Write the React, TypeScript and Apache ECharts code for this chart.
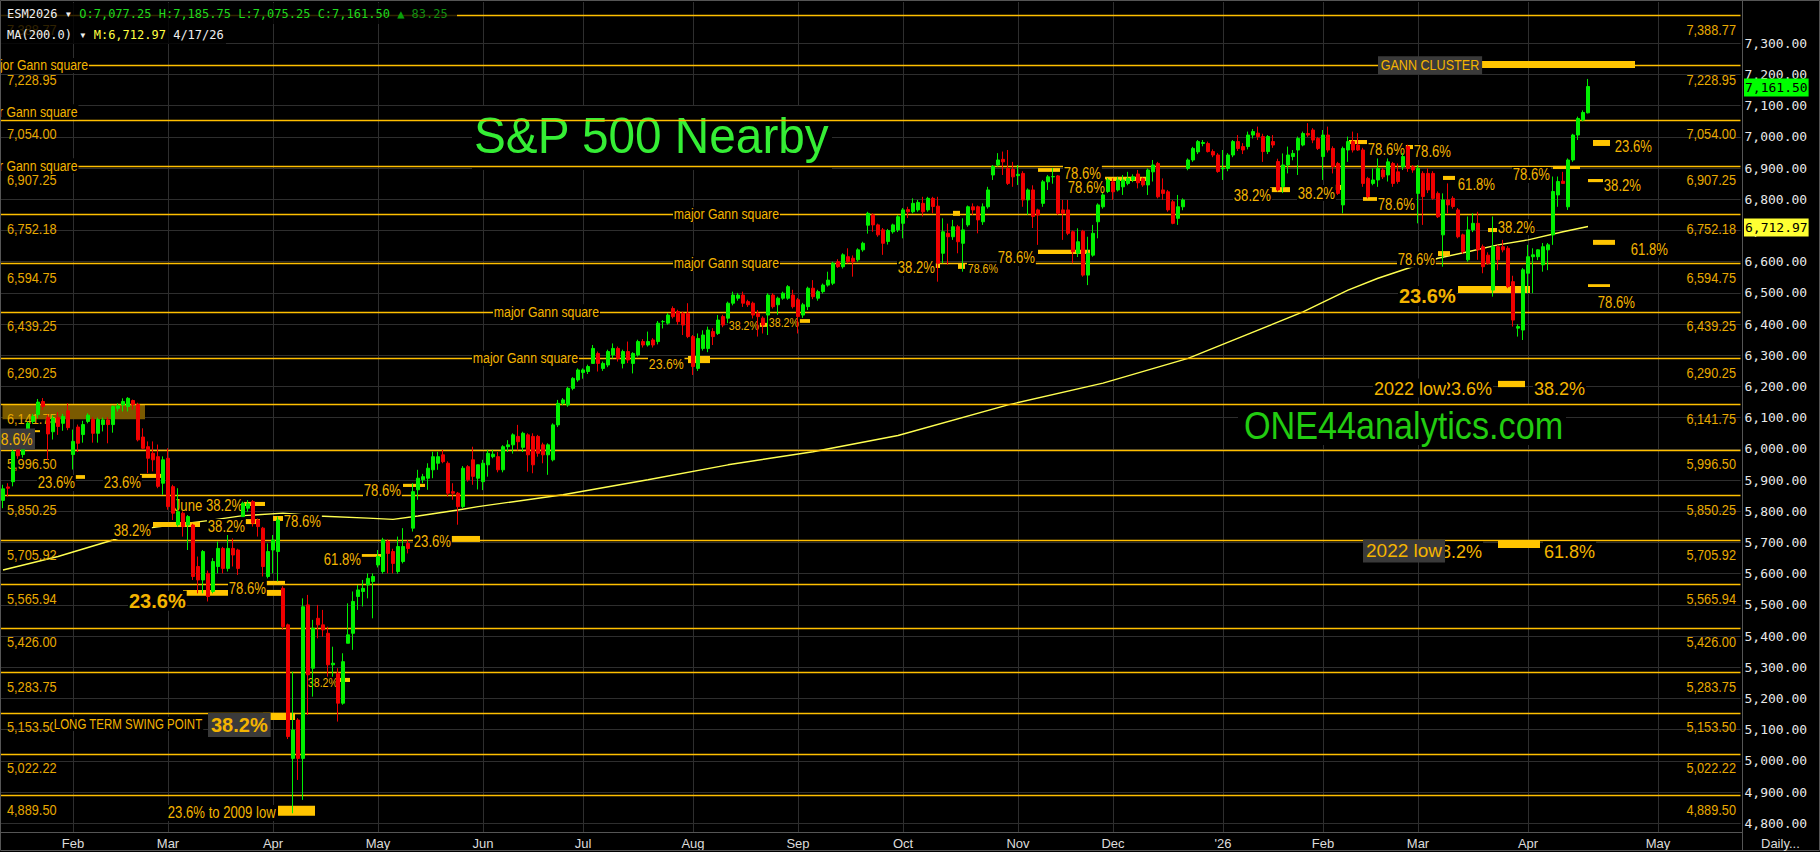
import React, { useEffect, useRef } from 'react';
import * as echarts from 'echarts';

// ---------- calendar ----------
const FIRST_DAY = '2025-01-13';
const AXIS_DAYS = 348;
const HOLIDAYS = ['2025-01-20', '2025-02-17', '2025-04-18', '2025-05-26', '2025-06-19', '2025-07-04', '2025-09-01', '2025-11-27', '2025-12-25', '2026-01-01', '2026-01-19', '2026-02-16'];

// ---------- daily bars: [open, high, low, close] ----------
const ohlc: number[][] = [
  [5835, 5885, 5810, 5872], [5878, 5890, 5847, 5874], [5895, 6002, 5880, 5991], [5998, 6005, 5968, 5978], [5982, 6015, 5972, 6008],
  [6040, 6088, 6030, 6082], [6088, 6112, 6080, 6104], [6110, 6160, 6098, 6150], [6152, 6163, 6125, 6136], [6100, 6110, 5965, 6048],
  [6055, 6108, 6030, 6098], [6100, 6118, 6045, 6072], [6082, 6112, 6058, 6104], [6122, 6146, 6060, 6068], [5982, 6062, 5934, 6024],
  [6070, 6078, 5990, 6018], [6046, 6090, 6020, 6078], [6088, 6114, 6082, 6108], [6094, 6102, 6020, 6050], [6050, 6100, 6020, 6094],
  [6078, 6100, 6056, 6093], [6093, 6102, 6018, 6078], [6078, 6140, 6052, 6136], [6130, 6146, 6120, 6138], [6141, 6162, 6120, 6152],
  [6136, 6166, 6120, 6162], [6155, 6158, 6126, 6142], [6142, 6148, 6024, 6029], [6038, 6066, 5998, 6002], [6007, 6024, 5922, 5970],
  [5986, 6024, 5928, 5965], [5975, 6014, 5874, 5880], [5890, 5976, 5853, 5965], [5970, 6002, 5805, 5815], [5879, 5885, 5772, 5794],
  [5757, 5874, 5751, 5799], [5794, 5800, 5719, 5751], [5756, 5788, 5676, 5783], [5756, 5760, 5580, 5591], [5623, 5655, 5537, 5580],
  [5580, 5676, 5537, 5671], [5601, 5610, 5511, 5527], [5543, 5650, 5537, 5639], [5623, 5703, 5601, 5681], [5681, 5686, 5601, 5617],
  [5617, 5724, 5607, 5681], [5681, 5713, 5623, 5660], [5676, 5680, 5596, 5617], [5783, 5831, 5783, 5826], [5810, 5836, 5799, 5824],
  [5831, 5836, 5751, 5762], [5772, 5777, 5719, 5751], [5746, 5750, 5591, 5623], [5591, 5697, 5585, 5671], [5676, 5724, 5601, 5708],
  [5671, 5783, 5575, 5772], [5553, 5560, 5420, 5430], [5436, 5440, 5070, 5078], [5008, 5286, 4832, 5099], [5131, 5137, 4939, 5008],
  [5008, 5521, 4875, 5494], [5500, 5532, 5147, 5276], [5297, 5452, 5206, 5425], [5457, 5500, 5393, 5436], [5436, 5484, 5398, 5420],
  [5409, 5430, 5270, 5308], [5308, 5366, 5270, 5313], [5281, 5297, 5126, 5185], [5185, 5345, 5180, 5318], [5377, 5505, 5377, 5404],
  [5409, 5543, 5356, 5511], [5527, 5564, 5484, 5548], [5543, 5580, 5495, 5553], [5564, 5601, 5521, 5585], [5575, 5601, 5457, 5591],
  [5628, 5676, 5620, 5655], [5607, 5715, 5600, 5708], [5703, 5710, 5601, 5665], [5671, 5680, 5601, 5633], [5607, 5719, 5600, 5687],
  [5639, 5746, 5633, 5687], [5697, 5708, 5665, 5681], [5746, 5890, 5735, 5863], [5869, 5933, 5837, 5906], [5901, 5920, 5890, 5911],
  [5906, 5954, 5869, 5938], [5933, 5991, 5906, 5975], [5954, 5991, 5933, 5975], [5981, 5997, 5954, 5959], [5954, 5960, 5847, 5858],
  [5863, 5890, 5837, 5858], [5858, 5862, 5757, 5815], [5815, 5945, 5810, 5938], [5943, 5948, 5895, 5901], [5965, 6007, 5885, 5912],
  [5906, 5950, 5870, 5949], [5895, 5965, 5868, 5954], [5949, 5997, 5911, 5986], [5975, 5997, 5970, 5983], [5975, 5990, 5925, 5933],
  [5933, 6012, 5925, 6007], [6007, 6028, 5990, 6013], [6013, 6050, 5985, 6045], [6040, 6077, 5995, 6023], [6005, 6055, 5990, 6050],
  [6045, 6050, 5927, 5981], [6040, 6050, 5922, 5949], [6040, 6045, 5975, 5986], [6013, 6020, 5954, 5981], [5981, 6018, 5917, 6013],
  [5965, 6082, 5960, 6077], [6077, 6157, 6070, 6146], [6146, 6163, 6140, 6157], [6141, 6199, 6135, 6194], [6194, 6230, 6188, 6226],
  [6221, 6258, 6215, 6253], [6245, 6258, 6225, 6253], [6248, 6270, 6240, 6264], [6274, 6333, 6274, 6322], [6306, 6312, 6248, 6274],
  [6258, 6280, 6250, 6274], [6269, 6318, 6262, 6312], [6301, 6338, 6290, 6322], [6322, 6328, 6280, 6290], [6274, 6318, 6258, 6312],
  [6312, 6344, 6275, 6285], [6274, 6310, 6242, 6306], [6301, 6350, 6296, 6344], [6344, 6352, 6325, 6333], [6333, 6376, 6328, 6344],
  [6349, 6355, 6325, 6333], [6344, 6410, 6335, 6403], [6408, 6413, 6386, 6408], [6403, 6435, 6398, 6429], [6450, 6457, 6418, 6424],
  [6440, 6446, 6398, 6408], [6435, 6440, 6365, 6397], [6435, 6467, 6355, 6360], [6360, 6365, 6237, 6264], [6258, 6370, 6250, 6354],
  [6322, 6380, 6315, 6365], [6322, 6392, 6310, 6381], [6376, 6387, 6333, 6360], [6370, 6429, 6365, 6413], [6424, 6430, 6390, 6397],
  [6419, 6472, 6403, 6467], [6467, 6504, 6460, 6493], [6483, 6500, 6475, 6493], [6493, 6504, 6455, 6467], [6472, 6478, 6455, 6462],
  [6467, 6472, 6418, 6429], [6435, 6445, 6360, 6424], [6419, 6425, 6370, 6397], [6429, 6499, 6365, 6493], [6493, 6499, 6450, 6456],
  [6462, 6488, 6430, 6483], [6483, 6504, 6478, 6499], [6483, 6525, 6478, 6520], [6493, 6510, 6450, 6456], [6478, 6484, 6370, 6424],
  [6429, 6468, 6420, 6462], [6456, 6520, 6445, 6515], [6515, 6541, 6480, 6488], [6483, 6510, 6475, 6504], [6504, 6530, 6498, 6525],
  [6525, 6568, 6520, 6541], [6531, 6600, 6525, 6595], [6600, 6608, 6580, 6584], [6584, 6627, 6578, 6622], [6616, 6643, 6595, 6600],
  [6611, 6620, 6552, 6600], [6606, 6643, 6600, 6638], [6638, 6664, 6632, 6659], [6717, 6760, 6690, 6755], [6750, 6755, 6696, 6718],
  [6718, 6722, 6680, 6686], [6702, 6708, 6622, 6659], [6665, 6705, 6655, 6700], [6696, 6722, 6690, 6718], [6702, 6750, 6695, 6744],
  [6723, 6772, 6675, 6766], [6767, 6776, 6740, 6760], [6760, 6803, 6755, 6787], [6766, 6798, 6760, 6790], [6787, 6808, 6745, 6760],
  [6766, 6808, 6760, 6803], [6803, 6808, 6755, 6777], [6778, 6808, 6536, 6595], [6627, 6739, 6595, 6696], [6691, 6722, 6590, 6680],
  [6680, 6734, 6670, 6712], [6712, 6718, 6627, 6664], [6659, 6739, 6568, 6702], [6718, 6780, 6712, 6776], [6776, 6787, 6750, 6766],
  [6776, 6780, 6691, 6734], [6728, 6787, 6718, 6776], [6776, 6840, 6770, 6830], [6878, 6910, 6862, 6905], [6910, 6948, 6905, 6926],
  [6928, 6953, 6878, 6920], [6899, 6958, 6846, 6851], [6896, 6920, 6840, 6872], [6876, 6910, 6846, 6880], [6883, 6890, 6776, 6798],
  [6798, 6835, 6750, 6830], [6830, 6845, 6708, 6745], [6766, 6770, 6654, 6750], [6787, 6862, 6776, 6856], [6856, 6878, 6830, 6872],
  [6872, 6900, 6850, 6873], [6875, 6878, 6750, 6755], [6766, 6798, 6670, 6755], [6766, 6798, 6685, 6691], [6696, 6700, 6595, 6632],
  [6627, 6707, 6615, 6664], [6698, 6702, 6552, 6557], [6557, 6680, 6525, 6627], [6621, 6718, 6616, 6691], [6728, 6787, 6675, 6782],
  [6776, 6820, 6770, 6814], [6825, 6868, 6820, 6862], [6856, 6867, 6798, 6824], [6830, 6872, 6825, 6862], [6840, 6878, 6814, 6862],
  [6851, 6888, 6845, 6867], [6862, 6880, 6855, 6872], [6881, 6894, 6835, 6853], [6866, 6870, 6840, 6846], [6846, 6899, 6814, 6894],
  [6888, 6926, 6857, 6910], [6915, 6920, 6803, 6808], [6830, 6867, 6798, 6819], [6824, 6830, 6760, 6766], [6792, 6798, 6720, 6723],
  [6739, 6814, 6718, 6776], [6776, 6803, 6765, 6798], [6899, 6931, 6893, 6926], [6926, 6968, 6920, 6963], [6952, 6990, 6945, 6985],
  [6979, 6990, 6970, 6982], [6979, 6985, 6950, 6953], [6953, 6960, 6935, 6942], [6942, 6948, 6885, 6889], [6898, 6958, 6862, 6900],
  [6899, 6948, 6890, 6942], [6942, 6990, 6935, 6985], [6985, 7006, 6955, 6963], [6969, 6980, 6945, 6958], [6969, 7017, 6960, 7006],
  [7006, 7025, 6995, 7017], [7012, 7033, 6990, 7001], [7001, 7010, 6920, 6953], [6953, 7006, 6945, 7001], [6985, 7006, 6965, 6974],
  [6921, 6930, 6825, 6830], [6841, 6947, 6820, 6910], [6910, 6969, 6883, 6942], [6937, 6958, 6925, 6947], [6958, 7001, 6878, 6995],
  [6974, 7017, 6970, 7011], [7011, 7044, 7000, 7006], [7022, 7028, 6980, 6990], [6995, 7000, 6958, 6963], [6937, 7022, 6862, 7006],
  [7006, 7033, 6950, 6958], [6963, 6970, 6883, 6905], [6915, 6920, 6814, 6819], [6782, 6969, 6755, 6963], [6958, 7001, 6920, 6985],
  [6985, 7017, 6950, 6958], [6974, 7012, 6955, 6958], [6958, 6965, 6840, 6851], [6867, 6872, 6803, 6809], [6851, 6899, 6845, 6862],
  [6862, 6931, 6840, 6899], [6894, 6900, 6865, 6872], [6878, 6931, 6857, 6920], [6915, 6920, 6840, 6851], [6888, 6915, 6850, 6857],
  [6904, 6948, 6894, 6937], [6969, 6975, 6888, 6899], [6904, 6910, 6885, 6894], [6819, 6910, 6723, 6899], [6883, 6890, 6718, 6809],
  [6883, 6899, 6820, 6830], [6883, 6890, 6798, 6803], [6819, 6825, 6740, 6744], [6686, 6819, 6584, 6798], [6798, 6851, 6755, 6782],
  [6803, 6810, 6770, 6777], [6766, 6772, 6675, 6680], [6686, 6690, 6625, 6632], [6606, 6745, 6600, 6702], [6702, 6755, 6695, 6723],
  [6723, 6760, 6606, 6638], [6648, 6655, 6563, 6584], [6621, 6630, 6590, 6595], [6509, 6745, 6488, 6648], [6648, 6654, 6573, 6606],
  [6648, 6670, 6630, 6638], [6643, 6650, 6515, 6520], [6536, 6555, 6392, 6413], [6387, 6400, 6360, 6392], [6381, 6580, 6349, 6574],
  [6563, 6654, 6499, 6616], [6616, 6643, 6499, 6622], [6616, 6640, 6605, 6638], [6590, 6660, 6568, 6648], [6638, 6660, 6573, 6654],
  [6686, 6873, 6654, 6825], [6814, 6873, 6776, 6857], [6858, 6888, 6850, 6851], [6776, 6931, 6766, 6926], [6926, 7010, 6920, 7006],
  [7006, 7065, 6990, 7059], [7054, 7085, 7050, 7078.25], [7077.25, 7185.75, 7075.25, 7161.5],
];

// 200-day moving average, read at points along the line: [bar index, value]
const maPoints: [number, number][] = [
  [0, 5612], [11, 5655], [22, 5708], [29, 5746], [41, 5770], [48, 5786], [56, 5794], [63, 5785], [73, 5778], [78, 5774],
  [83, 5785], [91, 5804], [95, 5815], [112, 5853], [129, 5901], [145, 5949], [162, 5991], [179, 6043], [201, 6141], [220, 6211],
  [237, 6290], [260, 6439], [269, 6509], [275, 6547], [281, 6579], [287, 6611], [293, 6632], [299, 6654], [305, 6670], [312, 6696],
  [317, 6712.97],
];

const gannLevels = [7388.77, 7228.95, 7054.0, 6907.25, 6752.18, 6594.75, 6439.25, 6290.25, 6141.75, 5996.5, 5850.25, 5705.92, 5565.94, 5426.0, 5283.75, 5153.5, 5022.22, 4889.5];
const priceTicks = [4800, 4900, 5000, 5100, 5200, 5300, 5400, 5500, 5600, 5700, 5800, 5900, 6000, 6100, 6200, 6300, 6400, 6500, 6600, 6700, 6800, 6900, 7000, 7100, 7200, 7300];
const monthTicks: [string, string][] = [
  ['2025-02-03', 'Feb'], ['2025-03-03', 'Mar'], ['2025-04-01', 'Apr'], ['2025-05-01', 'May'], ['2025-06-02', 'Jun'], ['2025-07-01', 'Jul'],
  ['2025-08-01', 'Aug'], ['2025-09-02', 'Sep'], ['2025-10-01', 'Oct'], ['2025-11-03', 'Nov'], ['2025-12-01', 'Dec'], ['2026-01-02', "'26"],
  ['2026-02-02', 'Feb'], ['2026-03-02', 'Mar'], ['2026-04-01', 'Apr'], ['2026-05-01', 'May'],
];

// "major Gann square" tags: [left bar index, price]
const gannTags: [number, number][] = [[-4.2, 7228.95], [-6.3, 7081], [-6.3, 6907.25], [134, 6752.18], [134, 6594.75], [98, 6439.25], [93.8, 6290.25]];

// retracement notes: [text, left bar index, price, font size]
const pctNotes: [string, number, number, number][] = [
  ['23.6%', 6.8, 5891, 16], ['23.6%', 20, 5891, 16], ['June 38.2%', 34, 5817, 16], ['38.2%', 22, 5737, 16], ['38.2%', 40.8, 5750, 16],
  ['78.6%', 56, 5766, 16], ['78.6%', 72, 5868, 16], ['23.6%', 82, 5702, 16], ['61.8%', 64, 5644, 16], ['78.6%', 45, 5554, 16],
  ['38.2%', 60.8, 5250, 13], ['23.6%', 129, 6272, 15], ['38.2%', 145, 6394, 13], ['38.2%', 153, 6404, 13], ['38.2%', 178.8, 6580, 16],
  ['78.6%', 192.8, 6577, 13], ['78.6%', 198.8, 6612, 16], ['78.6%', 212, 6884, 16], ['78.6%', 212.8, 6839, 16], ['38.2%', 246, 6811, 16],
  ['38.2%', 258.8, 6820, 16], ['78.6%', 272.8, 6958, 16], ['78.6%', 282, 6952, 16], ['78.6%', 274.8, 6782, 16], ['61.8%', 290.8, 6846, 16],
  ['78.6%', 301.8, 6878, 16], ['38.2%', 298.8, 6711, 16], ['78.6%', 278.8, 6606, 16], ['23.6%', 322.2, 6968, 16], ['38.2%', 320, 6843, 16],
  ['61.8%', 325.4, 6638, 16], ['78.6%', 318.8, 6468, 16],
  ['LONG TERM SWING POINT', 10, 5118, 14], ['23.6% to 2009 low', 32.8, 4833, 16],
];
const boldNotes: [string, number, number][] = [['23.6%', 25, 5513], ['23.6%', 279, 6490]];
const lowNotes: [string, number, number][] = [['23.6%', 287.4, 6195], ['2022 low', 274, 6195], ['38.2%', 306, 6195], ['38.2%', 285.4, 5673], ['61.8%', 308, 5673]];
// boxed notes: [text, bar index, price, font size, bold, align]
const boxNotes: [string, number, number, number, boolean, string][] = [
  ['78.6%', 6.4, 6032, 17, false, 'right'], ['38.2%', 41, 5115, 20, true, 'left'], ['GANN CLUSTER', 275, 7230, 14, false, 'left'], ['2022 low', 272, 5673, 19, false, 'left'],
];
// level marks: [from bar index, to bar index, top price, bottom price]
const levelMarks: [number, number, number, number][] = [
  [6.4, 7.4, 6060, 6054], [14.4, 16.4, 5916, 5904], [27.4, 31.8, 5920, 5907], [47.6, 52.4, 5830, 5817], [30, 39.4, 5766, 5750],
  [48.4, 51.4, 5775, 5759], [54, 56, 5785, 5769], [80, 84.4, 5888, 5878], [89.4, 95.4, 5721, 5702], [71.4, 75.8, 5663, 5654],
  [36, 45, 5548, 5529], [52.4, 56.4, 5577, 5567], [52.4, 55.8, 5548, 5529], [67.4, 69.4, 5266, 5253], [52, 58.4, 5154, 5131],
  [55, 62.4, 4856, 4824], [137, 141.4, 6298, 6275], [151.2, 152.8, 6404, 6391], [159.2, 161.4, 6416, 6404], [186.4, 187.4, 6593, 6580],
  [190, 191.4, 6763, 6747], [191, 192.4, 6596, 6577], [207, 217.4, 6638, 6625], [207, 211.4, 6900, 6888], [220.4, 228.8, 6872, 6859],
  [253.4, 257.4, 6839, 6823], [295, 326.4, 7243, 7221], [266.4, 267.8, 6846, 6830], [269.2, 272.8, 6990, 6977], [280.4, 282, 6974, 6961],
  [272, 274.8, 6807, 6795], [288, 290.4, 6875, 6862], [310, 315.4, 6907, 6897], [297, 299, 6708, 6695], [287, 289.4, 6634, 6618],
  [291, 305.4, 6522, 6500], [318, 321.4, 6990, 6971], [317, 321.2, 6865, 6855], [318, 322.4, 6670, 6654], [317, 321.4, 6528, 6519],
  [299, 304.4, 6218, 6198], [299, 307.4, 5708, 5682],
];
// shaded zone: [from bar index, to bar index, top price, bottom price]
const shadedZone: [number, number, number, number] = [-0.1, 28.4, 6143, 6095];

// ---------- styles ----------
const W = 1820, H = 852;
const SANS = "'Liberation Sans', Arial, sans-serif";
const MONO = "'DejaVu Sans Mono', monospace";
const ORANGE = '#f4b400';
const GANN = '#ffbf00';
const GRID = '#2e2e2e';
const UP = '#00f000';
const DOWN = '#f00000';

const f2 = (v: number) => v.toLocaleString('en-US', { minimumFractionDigits: 2, maximumFractionDigits: 2 });

function buildCategories(barCount: number): string[] {
  const out: string[] = [];
  const d = new Date(FIRST_DAY + 'T00:00:00Z');
  const iso = (x: Date) => x.toISOString().slice(0, 10);
  while (out.length < barCount) {
    const wd = d.getUTCDay();
    const s = iso(d);
    if (wd !== 0 && wd !== 6 && !HOLIDAYS.includes(s)) out.push(s);
    d.setUTCDate(d.getUTCDate() + 1);
  }
  while (out.length < AXIS_DAYS) {
    out.push(iso(d));
    d.setUTCDate(d.getUTCDate() + 1);
  }
  return out;
}

const cats = buildCategories(ohlc.length);
const monthMap: Record<string, string> = Object.fromEntries(monthTicks);

function buildOption(): any {
  return {
    backgroundColor: '#000',
    animation: false,
    grid: { left: 0.5, top: 2, width: 1740, height: 830, containLabel: false, outerBoundsMode: 'none' },
    xAxis: {
      type: 'category', data: cats, boundaryGap: true,
      axisLine: { show: true, lineStyle: { color: '#555', width: 1 } },
      axisTick: { show: false }, splitLine: { show: false },
      axisLabel: {
        interval: (_i: number, v: string) => !!monthMap[v],
        formatter: (v: string) => monthMap[v] || '',
        color: '#dcdcdc', fontSize: 13, fontFamily: "'Liberation Sans Narrow', 'Liberation Sans', sans-serif", margin: 5,
      },
    },
    yAxis: {
      type: 'value', position: 'right', min: 4772.1, max: 7432.4, scale: true,
      axisLine: { show: false }, axisTick: { show: false }, axisLabel: { show: false }, splitLine: { show: false },
    },
    series: [
      {
        type: 'line', data: [], z: 1, silent: true,
        markLine: {
          z: 1, silent: true, symbol: ['none', 'none'], animation: false,
          lineStyle: { color: GRID, width: 1, type: 'solid' },
          label: { show: true, position: 'end', distance: 4, color: '#e8e8e8', fontFamily: MONO, fontSize: 13, formatter: (p: any) => f2(p.value) },
          emphasis: { disabled: true },
          data: priceTicks.map((v) => ({ yAxis: v })),
        },
      },
      {
        type: 'line', data: [], z: 1, silent: true,
        markLine: {
          z: 1, silent: true, symbol: ['none', 'none'], animation: false,
          lineStyle: { color: GRID, width: 1, type: 'solid' },
          label: { show: false }, emphasis: { disabled: true },
          data: monthTicks.map(([d]) => ({ xAxis: d })),
        },
      },
      {
        type: 'line', data: [], z: 3, silent: true,
        markLine: {
          z: 3, silent: true, symbol: ['none', 'none'], animation: false,
          lineStyle: { color: GANN, width: 1.3, type: 'solid' },
          label: { show: false }, emphasis: { disabled: true },
          data: gannLevels.map((v) => ({ yAxis: v })),
        },
      },
      {
        type: 'line', name: 'MA(200.0)', data: maPoints, z: 2, silent: true, symbol: 'none', showSymbol: false,
        lineStyle: { color: '#ffff50', width: 1.4 },
      },
      {
        type: 'candlestick', name: 'ESM2026', z: 6, silent: true, barWidth: 2.6,
        data: ohlc.map(([o, h, l, c]) => [o, c, l, h]),
        itemStyle: { color: UP, color0: DOWN, borderColor: UP, borderColor0: DOWN, borderWidth: 1 },
      },
    ],
  };
}

function buildGraphics(chart: any): any[] {
  const xa = chart.convertToPixel({ xAxisIndex: 0 }, cats[0]);
  const xb = chart.convertToPixel({ xAxisIndex: 0 }, cats[1]);
  const step = xb - xa;
  const xp = (i: number) => xa + i * step;
  const yp = (p: number) => chart.convertToPixel({ yAxisIndex: 0 }, p);
  const gridRight = xp(AXIS_DAYS - 1) + step / 2;

  const txt = (text: string, x: number, y: number, o: any) => ({
    type: 'text', x, y, scaleX: o.scale ?? 1, z: o.z ?? 4.5, silent: true,
    style: {
      text, fill: o.color ?? ORANGE, fontSize: o.size, fontFamily: o.font ?? SANS, fontWeight: o.bold ? 'bold' : 'normal',
      textAlign: o.align ?? 'left', textVerticalAlign: 'middle',
      backgroundColor: o.bg, padding: o.pad,
    },
  });

  const g: any[] = [];

  // big titles with black backing
  g.push({ type: 'rect', z: 1.5, silent: true, shape: { x: 472, y: 106, width: 360, height: 64 }, style: { fill: '#000' } });
  g.push(txt('S&P 500 Nearby', 474, 136, { size: 50, color: '#35ee35', scale: 0.955, z: 1.6 }));
  g.push({ type: 'rect', z: 1.5, silent: true, shape: { x: 1238, y: 405, width: 328, height: 40 }, style: { fill: '#000' } });
  g.push(txt('ONE44analytics.com', 1244, 426, { size: 38, color: '#22cc11', scale: 0.9, z: 1.6 }));

  // shaded zone
  {
    const [a, b, pt, pb] = shadedZone;
    g.push({ type: 'rect', z: 1.7, silent: true, shape: { x: xp(a), y: yp(pt), width: xp(b) - xp(a), height: yp(pb) - yp(pt) }, style: { fill: '#7a5a00' } });
  }

  // Gann level price tags
  gannLevels.forEach((lv) => {
    const y = yp(lv) + 14;
    g.push(txt(f2(lv), 7, y, { size: 15, scale: 0.85, color: '#e8a900', z: 4 }));
    g.push(txt(f2(lv), gridRight - 4.5, y, { size: 15, scale: 0.85, color: '#e8a900', align: 'right', z: 4 }));
  });

  // "major Gann square" tags
  gannTags.forEach(([i, p]) => {
    g.push(txt('major Gann square', xp(i), yp(p), { size: 15, scale: 0.82, bg: '#000', pad: [0, 1] }));
  });

  // level marks
  levelMarks.forEach(([a, b, pt, pb]) => {
    g.push({ type: 'rect', z: 4.5, silent: true, shape: { x: xp(a), y: yp(pt), width: xp(b) - xp(a), height: Math.max(2, yp(pb) - yp(pt)) }, style: { fill: '#ffc400' } });
  });

  pctNotes.forEach(([t, i, p, s]) => {
    g.push(txt(t, xp(i), yp(p), { size: s, scale: 0.82, bg: '#000', pad: [0, 1] }));
  });
  boldNotes.forEach(([t, i, p]) => {
    g.push(txt(t, xp(i), yp(p), { size: 20, bold: true, bg: '#000', pad: [0, 1] }));
  });
  lowNotes.forEach(([t, i, p]) => {
    g.push(txt(t, xp(i), yp(p), { size: 19, scale: 0.95, bg: '#000', pad: [0, 1] }));
  });
  boxNotes.forEach(([t, i, p, s, b, al]) => {
    const scale = t === 'GANN CLUSTER' ? 0.9 : s === 17 ? 0.82 : 1;
    g.push(txt(t, xp(i), yp(p), { size: s, bold: b, scale, align: al, bg: '#3a3a3a', pad: [2, 3], z: 7 }));
  });

  // header
  const last = ohlc[ohlc.length - 1];
  const prev = ohlc[ohlc.length - 2];
  const lastDate = cats[ohlc.length - 1].split('-');
  const maLast = maPoints[maPoints.length - 1][1];
  g.push({ type: 'rect', z: 8, silent: true, shape: { x: 0, y: 3, width: 457, height: 21 }, style: { fill: 'rgba(0,0,0,0.8)' } });
  g.push({ type: 'rect', z: 8, silent: true, shape: { x: 0, y: 24, width: 226, height: 20 }, style: { fill: 'rgba(0,0,0,0.8)' } });
  const rs = (fill: string) => ({ fill, fontFamily: MONO, fontSize: 12 });
  g.push({
    type: 'text', x: 7, y: 14, z: 9, silent: true,
    style: {
      text: `{w|ESM2026 \u25BE }{g|O:${f2(last[0])} H:${f2(last[1])} L:${f2(last[2])} C:${f2(last[3])} }{t|\u25B2}{d| ${f2(last[3] - prev[3])}}`,
      fontFamily: MONO, fontSize: 12, textVerticalAlign: 'middle',
      rich: { w: rs('#f0f0f0'), g: rs('#1fd81f'), t: rs('#0aa00a'), d: rs('#138f13') },
    },
  });
  g.push({
    type: 'text', x: 7, y: 34.5, z: 9, silent: true,
    style: {
      text: `{w|MA(200.0) \u25BE }{y|M:${f2(maLast)} }{w|${+lastDate[1]}/${+lastDate[2]}/${lastDate[0].slice(2)}}`,
      fontFamily: MONO, fontSize: 12, textVerticalAlign: 'middle',
      rich: { w: rs('#f0f0f0'), y: rs('#ffff40') },
    },
  });

  // last price / MA boxes on the price scale
  g.push(txt(f2(last[3]), 1744, yp(last[3]) + 1, { size: 13, font: MONO, color: '#000', bg: '#00ff00', pad: [3, 1, 2, 1], z: 9 }));
  g.push(txt(f2(maLast), 1744, yp(maLast) + 1, { size: 13, font: MONO, color: '#000', bg: '#ffff33', pad: [3, 1, 2, 1], z: 9 }));

  // frame
  g.push({ type: 'line', z: 9, silent: true, shape: { x1: 1742.5, y1: 0, x2: 1742.5, y2: 851 }, style: { stroke: '#555', lineWidth: 1 } });
  g.push({ type: 'line', z: 9, silent: true, shape: { x1: 0, y1: 832.5, x2: 1742.5, y2: 832.5 }, style: { stroke: '#555', lineWidth: 1 } });
  g.push({ type: 'rect', z: 9, silent: true, shape: { x: 0.5, y: 0.5, width: W - 1, height: 850 }, style: { fill: 'none', stroke: '#555', lineWidth: 1 } });
  g.push(txt('Daily...', 1761, 843, { size: 13, color: '#dcdcdc', z: 9 }));
  return g;
}

export default function App() {
  const ref = useRef<HTMLDivElement>(null);
  useEffect(() => {
    document.body.style.margin = '0';
    document.body.style.background = '#000';
    const chart = echarts.init(ref.current!, null, { renderer: 'svg' });
    chart.setOption(buildOption());
    chart.setOption({ graphic: buildGraphics(chart) });
    return () => chart.dispose();
  }, []);
  return <div ref={ref} style={{ width: W, height: H, background: '#000' }} />;
}
